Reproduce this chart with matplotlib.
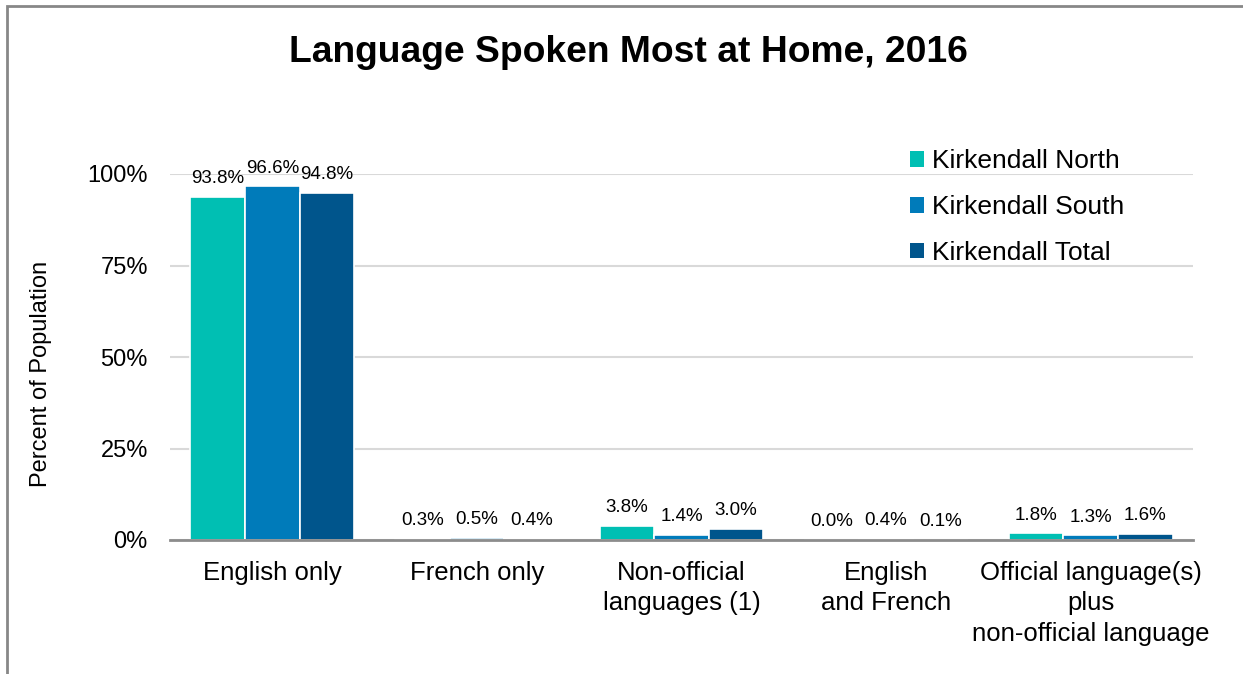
import matplotlib
matplotlib.use("Agg")
import matplotlib.pyplot as plt
import numpy as np
from matplotlib.patches import Rectangle, Patch

plt.rcParams['font.family'] = ['Liberation Sans', 'DejaVu Sans']

categories = ["English only", "French only", "Non-official\nlanguages (1)",
              "English\nand French", "Official language(s)\nplus\nnon-official language"]
series_names = ["Kirkendall North", "Kirkendall South", "Kirkendall Total"]
north = [93.8, 0.3, 3.8, 0.0, 1.8]
south = [96.6, 0.5, 1.4, 0.4, 1.3]
total = [94.8, 0.4, 3.0, 0.1, 1.6]
colors = ["#00BFB3", "#007BBA", "#00558C"]
yticks = [0, 25, 50, 75, 100]
ytick_labels = ["0%", "25%", "50%", "75%", "100%"]

W, H = 1243, 674
fig = plt.figure(figsize=(W/100, H/100), dpi=100)
ax = fig.add_axes([170/W, 1-540/H, (1193-170)/W, (540-174)/H])

# outer frame
fig.patches.append(Rectangle((7/W, -0.1), 1.2, 1 - 6/H + 0.1, transform=fig.transFigure,
                             fill=False, edgecolor="#878787", linewidth=2))

x = np.arange(len(categories))
bw = 0.8/3
for i, (vals, c, name) in enumerate(zip([north, south, total], colors, series_names)):
    pos = x + (i-1)*bw
    ax.bar(pos, vals, width=bw, color=c, edgecolor="white", linewidth=1.2, label=name, zorder=3)
    for p, v in zip(pos, vals):
        ax.annotate(f"{v:.1f}%", (p, v), xytext=(0, 7), textcoords="offset points",
                    ha="center", va="bottom", fontsize=13.5, clip_on=False)

ax.set_ylim(0, 100)
ax.set_xlim(-0.5, len(categories)-0.5)
ax.set_yticks(yticks)
ax.set_yticklabels(ytick_labels, fontsize=17)
ax.set_xticks(x)
ax.set_xticklabels(categories, fontsize=18.5, linespacing=1.35)
ax.tick_params(axis='both', length=0)
ax.tick_params(axis='y', pad=16)
ax.tick_params(axis='x', pad=15)
ax.grid(axis='y', color="#D9D9D9", linewidth=1.5, zorder=0)
for s in ["top", "right", "left"]:
    ax.spines[s].set_visible(False)
ax.spines["bottom"].set_color("#8C8C8C")
ax.spines["bottom"].set_linewidth(2)
ax.spines["bottom"].set_zorder(4)
ax.set_ylabel("Percent of Population", fontsize=17)
ax.yaxis.set_label_coords(-0.115, 0.4536)

handles = [Patch(facecolor=c, edgecolor="none") for c in colors]
ax.legend(handles, series_names, loc="upper left", bbox_to_anchor=(729/1023, 1.097),
          frameon=False, fontsize=19, handlelength=0.55, handleheight=0.55,
          handletextpad=0.3, labelspacing=0.83, borderaxespad=0)

fig.text(628.5/W, 1-52/H, "Language Spoken Most at Home, 2016", ha="center", va="center",
         fontsize=26.8, fontweight="bold")

fig.savefig("out.png", dpi=100)
